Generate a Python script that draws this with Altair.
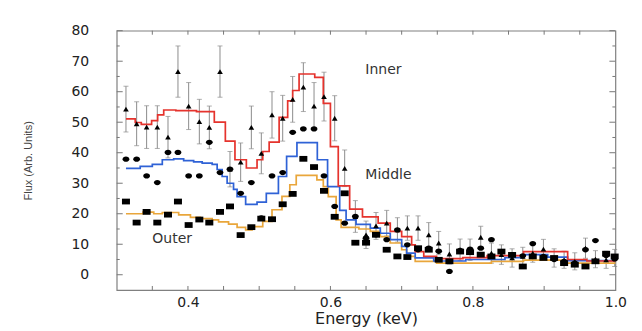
import altair as alt
import pandas as pd

# ---------------- data ----------------
ENERGY = [0.313, 0.328, 0.342, 0.357, 0.372, 0.386, 0.401, 0.416, 0.430, 0.445,
          0.459, 0.474, 0.489, 0.503, 0.518, 0.533, 0.547, 0.562, 0.577, 0.591,
          0.606, 0.620, 0.635, 0.650, 0.664, 0.679, 0.694, 0.708, 0.723, 0.738,
          0.752, 0.767, 0.782, 0.796, 0.811, 0.826, 0.840, 0.855, 0.870, 0.884,
          0.899, 0.914, 0.928, 0.943, 0.958, 0.972, 0.987, 0.999]

INNER = [54.3, 49.5, 48.4, 48.4, 45.1, 66.6, 55.3, 50.2, 48.3, 66.6,
         34.6, 36.9, 48.3, 39.8, 52.4, 51.3, 57.5, 61.5, 55.3, 58.4,
         51.3, 34.9, 19.1, 13.1, 16.0, 16.9, 14.7, 15.3, 15.3, 13.1,
         10.4, 6.8, 8.2, 8.2, 12.3, 7.1, 6.6, 5.5, 6.0, 7.1,
         8.4, 5.5, 4.9, 4.4, 8.7, 5.1, 4.9, 5.5]

INNER_ERR = [7.5, 7.2, 7.0, 7.0, 6.8, 8.4, 7.7, 7.3, 7.0, 8.4,
             5.8, 6.3, 7.0, 6.7, 7.6, 7.5, 7.5, 8.0, 7.7, 8.0,
             7.4, 6.0, 5.2, 4.5, 4.4, 4.2, 4.0, 4.0, 4.0, 4.0,
             3.8, 3.3, 3.5, 3.5, 3.6, 3.3, 3.2, 3.0, 3.0, 3.0,
             3.2, 3.0, 2.8, 2.8, 3.3, 2.8, 2.8, 2.8]

MIDDLE = [37.9, 37.9, 32.4, 30.2, 40.1, 40.1, 32.4, 32.4, 43.4, 33.5,
          34.6, 26.7, 30.2, 18.6, 32.4, 33.5, 46.7, 47.8, 47.8, 32.4,
          22.4, 16.9, 19.1, 12.0, 13.1, 11.5, 14.7, 9.8, 8.2, 8.7,
          7.7, 1.1, 8.0, 8.4, 8.7, 11.5, 7.6, 6.6, 6.2, 10.2,
          6.0, 5.0, 4.4, 3.8, 8.2, 11.2, 6.3, 5.2]

OUTER = [24.0, 17.1, 20.6, 17.1, 19.7, 24.0, 16.3, 18.1, 17.1, 20.6,
         22.4, 13.0, 15.6, 18.4, 18.2, 23.1, 26.5, 38.0, 35.3, 27.5,
         19.0, 26.7, 10.5, 10.5, 13.1, 8.2, 6.0, 5.8, 8.7, 8.2,
         4.9, 4.4, 7.6, 7.4, 6.6, 6.0, 7.6, 6.5, 2.7, 6.0,
         5.5, 5.5, 3.8, 3.3, 2.7, 4.4, 6.9, 6.0]

# model step curves (start of each step, value)
RED_X = [0.313, 0.326, 0.3345, 0.349, 0.3575, 0.366, 0.383, 0.412, 0.437, 0.4525,
         0.466, 0.482, 0.497, 0.505, 0.514, 0.528, 0.540, 0.547, 0.556, 0.578,
         0.590, 0.600, 0.611, 0.627, 0.645, 0.667, 0.684, 0.700, 0.714, 0.719,
         0.731, 0.749, 0.786, 0.820, 0.871, 0.933, 0.960, 1.0]
RED_Y = [51.1, 49.9, 49.3, 50.5, 52.4, 54.0, 53.8, 53.5, 50.0, 43.8,
         37.7, 35.0, 37.7, 40.4, 43.5, 51.6, 57.0, 60.4, 65.8, 64.7,
         56.2, 42.0, 29.1, 21.5, 19.0, 16.9, 14.2, 12.5, 9.8, 7.6,
         6.0, 5.3, 5.6, 6.3, 7.6, 5.0, 4.5, 4.5]

BLUE_X = [0.313, 0.333, 0.350, 0.364, 0.380, 0.394, 0.408, 0.420, 0.434, 0.441,
          0.448, 0.455, 0.464, 0.469, 0.481, 0.497, 0.510, 0.527, 0.5385, 0.553,
          0.5816, 0.596, 0.613, 0.622, 0.636, 0.656, 0.670, 0.684, 0.700, 0.707,
          0.719, 0.745, 0.790, 0.845, 0.871, 0.905, 0.933, 1.0]
BLUE_Y = [34.9, 35.5, 36.2, 37.7, 38.0, 37.4, 37.0, 36.6, 36.2, 34.5,
          32.2, 30.0, 28.0, 25.6, 23.1, 23.8, 26.7, 32.2, 38.8, 43.3,
          37.7, 28.9, 21.1, 18.0, 16.5, 15.3, 13.6, 11.5, 9.3, 7.1,
          5.5, 4.5, 5.0, 5.6, 6.6, 5.8, 4.6, 4.6]

ORANGE_X = [0.313, 0.337, 0.352, 0.364, 0.387, 0.4035, 0.4175, 0.434, 0.443, 0.457,
            0.469, 0.481, 0.490, 0.505, 0.518, 0.532, 0.543, 0.552, 0.581, 0.590,
            0.597, 0.608, 0.615, 0.640, 0.656, 0.670, 0.684, 0.700, 0.707, 0.719,
            0.749, 0.826, 0.871, 0.929, 1.0]
ORANGE_Y = [20.0, 20.5, 20.0, 20.4, 19.6, 18.8, 18.4, 18.0, 17.3, 16.6,
            15.5, 14.7, 15.8, 17.5, 21.3, 25.7, 29.5, 32.6, 31.1, 28.9,
            25.6, 18.0, 15.5, 15.0, 14.2, 12.5, 10.4, 8.2, 6.0, 4.4,
            3.8, 4.4, 4.8, 3.8, 3.8]

LABEL_TEXT = ["Inner", "Middle", "Outer"]
LABEL_E = [0.649, 0.649, 0.350]
LABEL_Y = [67.2, 32.7, 11.6]

X_LABELS = [0.4, 0.6, 0.8, 1.0]
X_TICKS = [0.35, 0.40, 0.45, 0.50, 0.55, 0.60, 0.65, 0.70, 0.75, 0.80, 0.85, 0.90, 0.95]
Y_LABELS = [0, 10, 20, 30, 40, 50, 60, 70, 80]
Y_MINOR = [5, 15, 25, 35, 45, 55, 65, 75]

# ---------------- chart ----------------
W, H = 498.7, 259.3
xs = alt.Scale(domain=[0.3, 1.0], nice=False, zero=False)
ys = alt.Scale(domain=[-5, 80], nice=False, zero=False)

pts = pd.DataFrame({"E": ENERGY, "inner": INNER, "err": INNER_ERR,
                    "middle": MIDDLE, "outer": OUTER})
red = pd.DataFrame({"E": RED_X, "v": RED_Y})
blue = pd.DataFrame({"E": BLUE_X, "v": BLUE_Y})
orange = pd.DataFrame({"E": ORANGE_X, "v": ORANGE_Y})
labels = pd.DataFrame({"E": LABEL_E, "v": LABEL_Y, "t": LABEL_TEXT})
xt = pd.DataFrame({"E": X_TICKS})
ymaj = pd.DataFrame({"v": Y_LABELS})
ymin = pd.DataFrame({"v": Y_MINOR})

TRI = "M0,-0.85L1,0.85L-1,0.85Z"
CIRC = "M-1,0A1,0.78,0,1,0,1,0A1,0.78,0,1,0,-1,0Z"
SQR = "M-1,-0.72L1,-0.72L1,0.72L-1,0.72Z"

x_axis = alt.Axis(values=X_LABELS, format=".1f", title="Energy (keV)", grid=False,
                  ticks=False, domain=False, labelFlush=False, labelOverlap=False,
                  labelFont="DejaVu Sans", labelFontSize=14, labelColor="#222",
                  labelPadding=6, titleFont="DejaVu Sans", titleFontSize=16,
                  titleFontWeight="normal", titleColor="#222", titlePadding=1)
y_axis = alt.Axis(values=Y_LABELS, title="Flux (Arb. Units)", grid=False,
                  ticks=False, domain=False, labelOverlap=False,
                  labelFont="DejaVu Sans", labelFontSize=14, labelColor="#222",
                  labelPadding=28, titleFont="Liberation Sans", titleFontSize=11,
                  titleFontWeight="normal", titleColor="#444", titlePadding=37)


def X(field):
    return alt.X(f"{field}:Q", scale=xs, axis=x_axis)


def Y(field):
    return alt.Y(f"{field}:Q", scale=ys, axis=y_axis)


base = alt.Chart(pts)

errbars = base.transform_calculate(
    lo="datum.inner - datum.err", hi="datum.inner + datum.err"
).mark_rule(color="#8c8c8c", strokeWidth=1).encode(
    x=X("E"), y=Y("lo"), y2="hi:Q",
)

caps = base.transform_calculate(
    lo="datum.inner - datum.err", hi="datum.inner + datum.err"
).transform_fold(["lo", "hi"], as_=["k", "c"]).mark_tick(
    orient="horizontal", size=5, thickness=1, color="#8c8c8c"
).encode(x=X("E"), y=Y("c"))


def step(df, color):
    return alt.Chart(df).mark_line(interpolate="step-after", color=color,
                                   strokeWidth=1.7).encode(x=X("E"), y=Y("v"))


red_l = step(red, "#e5332d")
blue_l = step(blue, "#2f62d6")
orange_l = step(orange, "#e9a63b")


def points(field, shape, size):
    return base.mark_point(shape=shape, size=size, filled=True, color="black",
                           opacity=1).encode(x=X("E"), y=Y(field))


sq = points("outer", SQR, 64)
ci = points("middle", CIRC, 46)
tr = points("inner", TRI, 32)

texts = alt.Chart(labels).mark_text(align="left", baseline="middle",
                                    font="DejaVu Sans", fontSize=14,
                                    color="#333").encode(
    x=X("E"), y=Y("v"), text="t:N",
)

tick_color = "#777"
xt_bottom = alt.Chart(xt).mark_rule(color=tick_color, strokeWidth=1).encode(
    x=X("E"), y=alt.value(H), y2=alt.value(H - 4))
xt_top = alt.Chart(xt).mark_rule(color=tick_color, strokeWidth=1).encode(
    x=X("E"), y=alt.value(0), y2=alt.value(4))
yt_left_maj = alt.Chart(ymaj).mark_rule(color=tick_color, strokeWidth=1).encode(
    y=Y("v"), x=alt.value(0), x2=alt.value(6))
yt_left_min = alt.Chart(ymin).mark_rule(color=tick_color, strokeWidth=1).encode(
    y=Y("v"), x=alt.value(0), x2=alt.value(3))
yt_right_maj = alt.Chart(ymaj).mark_rule(color=tick_color, strokeWidth=1).encode(
    y=Y("v"), x=alt.value(W), x2=alt.value(W - 6))
yt_right_min = alt.Chart(ymin).mark_rule(color=tick_color, strokeWidth=1).encode(
    y=Y("v"), x=alt.value(W), x2=alt.value(W - 3))

chart = alt.layer(
    errbars, caps, xt_bottom, xt_top, yt_left_maj, yt_left_min, yt_right_maj,
    yt_right_min, orange_l, blue_l, red_l, sq, ci, tr, texts
).properties(
    width=W, height=H,
    autosize=alt.AutoSizeParams(type="none"),
    padding={"left": 108.7, "top": 22.7, "right": 18, "bottom": 40},
    background="white",
).configure_view(stroke="#808080", strokeWidth=1.2)

chart.save("out.html", embed_options={"renderer": "svg", "actions": False})
